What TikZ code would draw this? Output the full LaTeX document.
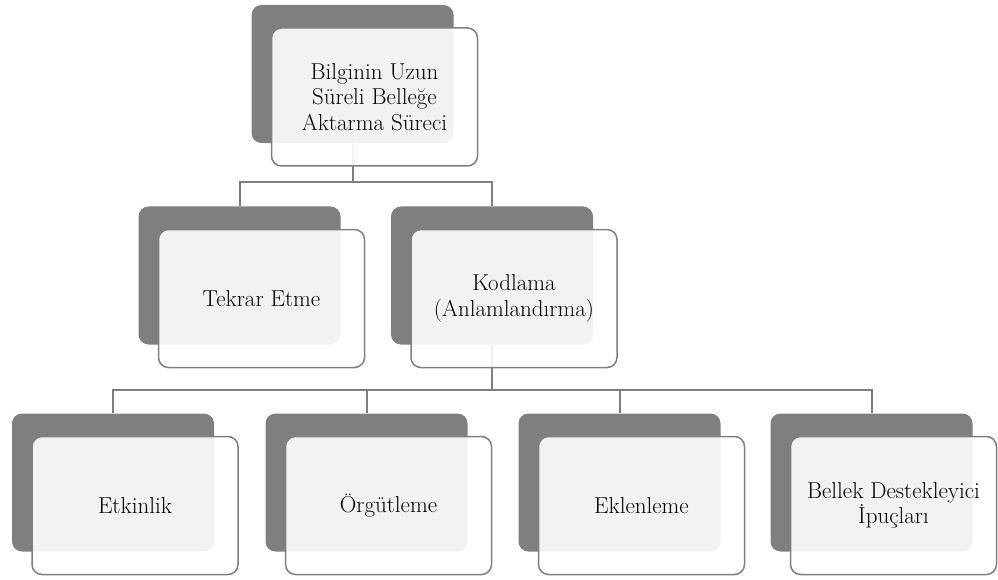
\documentclass[tikz,border=0pt]{standalone}
\usetikzlibrary{positioning}
\usetikzlibrary{calc}
\definecolor{boxgray}{RGB}{127,127,127}
\definecolor{linegray}{RGB}{128,128,128}
\begin{document}
\begin{tikzpicture}[x=1pt,y=-1pt]
		\tikzset{backbox/.style = {shape=rectangle, rounded corners=10pt, fill=boxgray, minimum width=202pt, minimum height=138pt},
			frontbox/.style = {shape=rectangle, rounded corners=10pt, draw=linegray, line width=1.5pt, fill=white, fill opacity=0.9, text opacity=1, minimum width=206pt, minimum height=138pt, inner sep=2pt, align=center, font=\fontsize{23}{25.5}\selectfont},
			conn/.style = {draw=boxgray, line width=2pt}}
		\useasboundingbox (0,0) rectangle (998,580);
		% dark back boxes
		\node[backbox] (topb) at (352.5,74) {};
		\node[backbox] (tekb) at (239.5,275.5) {};
		\node[backbox] (kodb) at (492,275.5) {};
		\node[backbox] (etkb) at (113,482.5) {};
		\node[backbox] (orgb) at (366.5,482.5) {};
		\node[backbox] (eklb) at (619.5,482.5) {};
		\node[backbox] (belb) at (871.5,482.5) {};
		% connectors
		\coordinate (bus1) at (352.5,182);
		\coordinate (bus2) at (492,390);
		\draw[conn] (topb.south) -- (bus1) -| (tekb.north);
		\draw[conn] (bus1) -| (kodb.north);
		\draw[conn] (kodb.south) -- (bus2);
		\foreach \n in {etkb,orgb,eklb,belb}
			\draw[conn] (bus2) -| (\n.north);
		% front boxes
		\node[frontbox] (topf) at ($(topb)+(22,23)$) {Bilginin Uzun\\Süreli Belleğe\\Aktarma Süreci};
		\node[frontbox] (tekf) at ($(tekb)+(22,23)$) {Tekrar Etme};
		\node[frontbox] (kodf) at ($(kodb)+(22,23)$) {Kodlama\\(Anlamlandırma)};
		\node[frontbox] (etkf) at ($(etkb)+(22,23)$) {Etkinlik};
		\node[frontbox] (orgf) at ($(orgb)+(22,23)$) {Örgütleme};
		\node[frontbox] (eklf) at ($(eklb)+(22,23)$) {Eklenleme};
		\node[frontbox] (belf) at ($(belb)+(22,23)$) {Bellek Destekleyici\\İpuçları};
\end{tikzpicture}
\end{document}
